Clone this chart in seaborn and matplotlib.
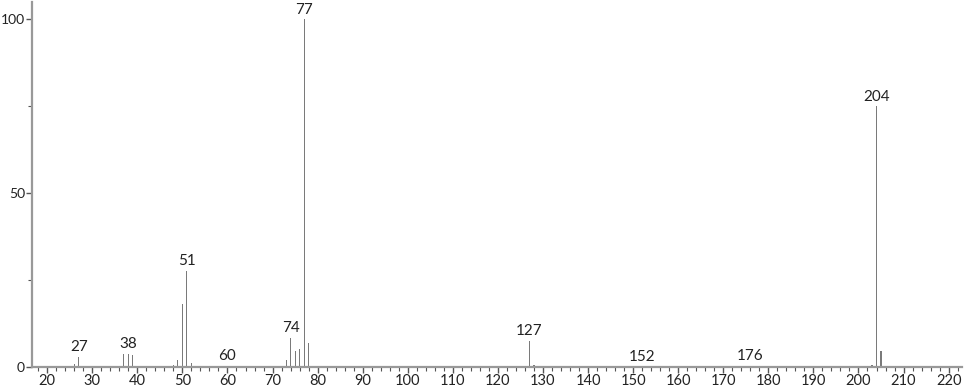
import matplotlib
matplotlib.use("Agg")
import matplotlib.pyplot as plt
from matplotlib.ticker import MultipleLocator
import seaborn as sns
import pandas as pd

mz = [25, 26, 27, 28, 36, 37, 38, 39, 48, 49, 50, 51, 52, 60, 61, 62, 63,
      72, 73, 74, 75, 76, 77, 78, 79, 127, 128, 139, 152, 164, 165, 176, 177,
      203, 204, 205, 206]
intensity = [0.4, 1.0, 3.0, 0.3, 0.4, 3.6, 3.8, 3.4, 0.5, 2.0, 18.0, 27.7, 1.2,
             0.3, 0.4, 0.3, 0.3, 0.4, 2.0, 8.3, 4.7, 5.3, 100.0, 6.8, 0.4,
             7.5, 0.5, 0.3, 0.2, 0.3, 0.3, 0.3, 0.3, 0.5, 75.0, 4.7, 0.3]
label_mz = [27, 38, 51, 60, 74, 77, 127, 152, 176, 204]

df = pd.DataFrame({"mz": mz, "intensity": intensity})

sns.set_style("white")
plt.rcParams["font.family"] = ["Lato", "DejaVu Sans"]

fig = plt.figure(figsize=(9.66, 3.89), dpi=100)
ax = fig.add_axes([0.033, 0.0566, 0.963, 0.938])

sns.barplot(data=df, x="mz", y="intensity", native_scale=True, width=0.24,
            color="#7a7a7a", saturation=1, linewidth=0, ax=ax)

lookup = dict(zip(mz, intensity))
for m in label_mz:
    ax.text(m, lookup[m] + 0.8, str(m), ha="center", va="bottom",
            fontsize=11, color="#222222")

ax.set_xlim(16.6, 223)
ax.set_ylim(0, 105)
ax.xaxis.set_major_locator(MultipleLocator(10))
ax.xaxis.set_minor_locator(MultipleLocator(2))
ax.set_yticks([0, 50, 100])
ax.yaxis.set_minor_locator(MultipleLocator(25))
ax.set_xlabel("")
ax.set_ylabel("")

for side in ["top", "right"]:
    ax.spines[side].set_visible(False)
for side in ["left", "bottom"]:
    ax.spines[side].set_color("#999999")
    ax.spines[side].set_linewidth(1.6)

ax.tick_params(axis="both", which="major", direction="out", length=4,
               width=1, color="#555555", labelsize=10.5, labelcolor="#222222", pad=1)
ax.tick_params(axis="both", which="minor", direction="out", length=3,
               width=0.8, color="#555555")
ax.tick_params(axis="x", bottom=True)
ax.tick_params(axis="y", left=True)
ax.tick_params(axis="x", which="minor", bottom=True)
ax.tick_params(axis="y", which="minor", left=True)
for lbl in ax.get_yticklabels():
    lbl.set_fontsize(10)

fig.savefig("out.png", dpi=100)
